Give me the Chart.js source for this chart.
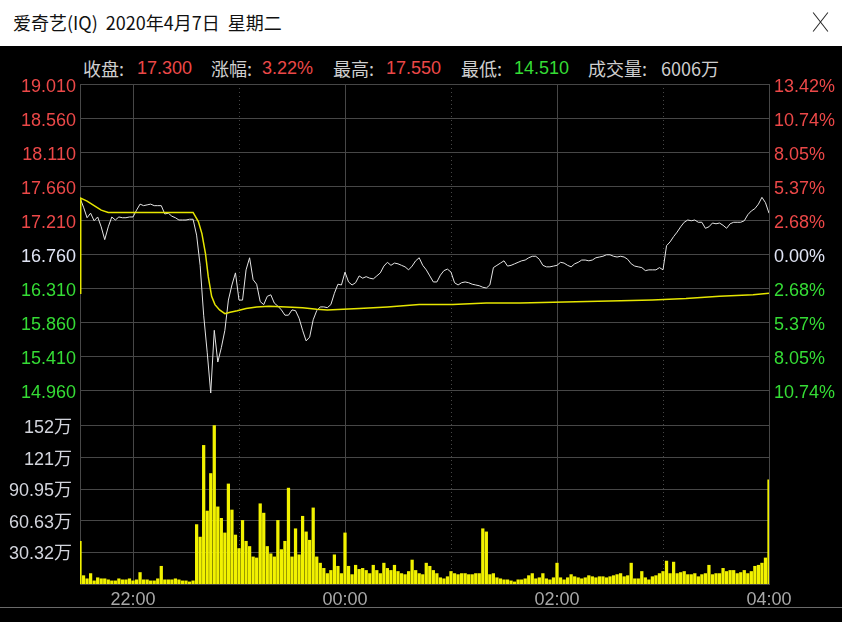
<!DOCTYPE html>
<html>
<head>
<meta charset="utf-8">
<script src="https://cdn.jsdelivr.net/npm/chart.js@4.4.0/dist/chart.umd.min.js"></script>
<style>
  html, body { margin: 0; padding: 0; background: #000; }
  body { width: 842px; height: 622px; position: relative; overflow: hidden;
         font-family: "Liberation Sans", "Noto Sans CJK SC", sans-serif; }
  #titlebar { position: absolute; left: 0; top: 0; width: 842px; height: 46px; background: #fff; }
  #title { position: absolute; left: 13px; top: 9px; font-size: 18px; color: #111;
           font-family: "Noto Sans CJK SC", sans-serif; white-space: nowrap; }
  #close { position: absolute; left: 812px; top: 11px; width: 18px; height: 22px; }
  #close i { position: absolute; left: 8px; top: -1px; width: 1px; height: 24px; background: #222; }
  #close i:first-child { transform: rotate(38deg); }
  #close i:last-child { transform: rotate(-38deg); }
  #info span { position: absolute; top: 57px; font-size: 18px; line-height: 22px; white-space: nowrap; }
  .lbl { color: #cfcfcf; font-family: "Noto Sans CJK SC", sans-serif; }
  .up { color: #ec4848; }
  .down { color: #35dc35; }
  canvas { position: absolute; left: 0; }
  #priceCanvas { top: 46px; }
  #volCanvas { top: 408px; }
  #sep { position: absolute; left: 0; top: 607px; width: 842px; height: 1px; background: #6a6a6a; }
</style>
</head>
<body>
<div id="titlebar">
  <div id="title">爱奇艺(IQ)&nbsp; 2020年4月7日&nbsp; 星期二</div>
  <div id="close"><i></i><i></i></div>
</div>
<div id="info">
  <span class="lbl" style="left:83px">收盘:</span><span class="up" style="left:137px">17.300</span>
  <span class="lbl" style="left:211px">涨幅:</span><span class="up" style="left:262px">3.22%</span>
  <span class="lbl" style="left:333px">最高:</span><span class="up" style="left:386px">17.550</span>
  <span class="lbl" style="left:461px">最低:</span><span class="down" style="left:514px">14.510</span>
  <span class="lbl" style="left:588px">成交量:</span><span class="lbl" style="left:661px">6006万</span>
</div>
<canvas id="priceCanvas" width="842" height="362"></canvas>
<canvas id="volCanvas" width="842" height="214"></canvas>
<div id="sep"></div>
<script>
// axis labels
const priceTicks = [19.010, 18.560, 18.110, 17.660, 17.210, 16.760, 16.310, 15.860, 15.410, 14.960];
const pctLabels = ["13.42%", "10.74%", "8.05%", "5.37%", "2.68%", "0.00%", "2.68%", "5.37%", "8.05%", "10.74%"];
const prevClose = 16.760;
const volTicks = [30.32, 60.63, 90.95, 121.27, 151.6];
const volLabels = ["30.32万", "60.63万", "90.95万", "121万", "152万"];
const timeTicks = [30, 90, 150, 210, 270, 330, 390];          // minutes after 21:30
const timeLabels = ["22:00", "", "00:00", "", "02:00", "", "04:00"];
const dottedTimes = [90, 210, 330];

// last price, one sample every 2 minutes from 21:30 to 04:00
const prices = [
  17.50, 17.38, 17.24, 17.30, 17.20, 17.25, 17.12, 16.95, 17.12, 17.25,
  17.21, 17.25, 17.24, 17.24, 17.25, 17.25, 17.34, 17.42, 17.40, 17.41,
  17.42, 17.40, 17.40, 17.40, 17.29, 17.30, 17.26, 17.24, 17.21, 17.21,
  17.21, 17.22, 17.22, 17.01, 16.61, 15.95, 15.46, 14.92, 15.75, 15.33,
  15.52, 15.75, 16.15, 16.35, 16.51, 16.15, 16.15, 16.55, 16.71, 16.42,
  16.36, 16.13, 16.09, 16.20, 16.22, 16.11, 16.07, 16.02, 15.95, 15.95,
  16.02, 16.01, 15.91, 15.75, 15.61, 15.66, 15.89, 16.01, 16.06, 16.06,
  16.05, 16.09, 16.24, 16.36, 16.35, 16.52, 16.39, 16.35, 16.38, 16.47,
  16.44, 16.46, 16.44, 16.43, 16.47, 16.51, 16.60, 16.65, 16.61, 16.64,
  16.63, 16.61, 16.59, 16.55, 16.60, 16.67, 16.71, 16.61, 16.55, 16.47,
  16.39, 16.39, 16.48, 16.54, 16.56, 16.52, 16.38, 16.35, 16.38, 16.39,
  16.38, 16.36, 16.35, 16.34, 16.32, 16.31, 16.35, 16.58, 16.61, 16.64,
  16.67, 16.60, 16.61, 16.63, 16.65, 16.67, 16.68, 16.71, 16.73, 16.73,
  16.69, 16.61, 16.59, 16.59, 16.60, 16.61, 16.65, 16.64, 16.61, 16.59,
  16.63, 16.65, 16.68, 16.68, 16.67, 16.68, 16.71, 16.72, 16.73, 16.75,
  16.75, 16.73, 16.72, 16.73, 16.72, 16.69, 16.63, 16.60, 16.59, 16.58,
  16.54, 16.55, 16.55, 16.55, 16.58, 16.55, 16.87, 16.92, 16.99, 17.05,
  17.12, 17.18, 17.21, 17.20, 17.21, 17.18, 17.18, 17.10, 17.12, 17.17,
  17.16, 17.17, 17.14, 17.10, 17.16, 17.18, 17.18, 17.18, 17.20, 17.28,
  17.33, 17.36, 17.42, 17.51, 17.44, 17.30
];

// average price line
const avgMinutes = [0, 0.4, 4, 8, 12, 16, 64, 67, 69, 71, 72.6, 74.5, 76.4, 79, 82, 85,
  89, 94, 100, 107, 117, 126, 134, 140, 149, 158, 174, 192, 211, 230, 249, 268, 287,
  306, 324, 343, 362, 381, 390];
const avgPrices = [16.24, 17.50, 17.46, 17.40, 17.34, 17.31, 17.31, 17.19, 17.03, 16.77,
  16.46, 16.20, 16.09, 16.02, 15.97, 15.99, 16.01, 16.04, 16.06, 16.07, 16.06, 16.05,
  16.03, 16.02, 16.03, 16.04, 16.06, 16.09, 16.09, 16.11, 16.11, 16.12, 16.13, 16.14,
  16.15, 16.17, 16.20, 16.22, 16.24];

// volume in 万, every 2 minutes
const volumes = [
  41, 8, 5, 10, 3, 6, 5, 5, 4, 3, 3, 5, 4, 4, 5, 3, 4, 11, 4, 4,
  3, 3, 5, 17, 4, 4, 4, 5, 4, 3, 3, 2, 3, 57, 45, 133, 70, 106, 152, 74,
  63, 49, 96, 71, 47, 34, 61, 41, 36, 26, 25, 77, 68, 36, 29, 26, 61, 33, 41, 92,
  26, 53, 28, 65, 50, 42, 73, 26, 20, 15, 10, 13, 28, 17, 10, 49, 17, 9, 18, 14,
  15, 13, 10, 18, 13, 10, 20, 15, 13, 18, 12, 10, 9, 12, 23, 13, 10, 9, 20, 17,
  13, 10, 6, 5, 7, 12, 10, 9, 10, 10, 9, 9, 10, 10, 53, 50, 9, 10, 6, 5,
  4, 4, 3, 2, 4, 4, 5, 8, 10, 5, 6, 10, 5, 4, 6, 20, 6, 4, 6, 9,
  7, 6, 5, 6, 8, 7, 6, 7, 7, 6, 7, 8, 9, 10, 7, 8, 20, 5, 5, 12,
  6, 4, 7, 8, 10, 12, 22, 10, 21, 10, 11, 12, 9, 9, 10, 7, 9, 10, 18, 9,
  10, 10, 15, 12, 13, 13, 10, 11, 13, 10, 12, 17, 18, 20, 25, 100
];

const GRID = "#474747";
const RED = "#ec4848", GREEN = "#35dc35", FLAT = "#e0e4f4";
const PRICE_MIN = 14.7218;   // bottom of the price panel (gap above the volume panel)
const PRICE_MAX = 19.010;
const VOL_MAX = 168.87;      // top of the volume panel

Chart.defaults.font.family = '"Liberation Sans", "Noto Sans CJK SC", sans-serif';
Chart.defaults.font.size = 18;

function tickColor(v) {
  if (v > prevClose + 1e-6) return RED;
  if (v < prevClose - 1e-6) return GREEN;
  return FLAT;
}
const gridDash = ctx => (ctx.tick && dottedTimes.includes(ctx.tick.value)) ? [1, 3] : [];
const setTimeTicks = s => { s.ticks = timeTicks.map(v => ({ value: v })); };
const setPriceTicks = s => { s.ticks = priceTicks.map(v => ({ value: v })); };
// fixed axis width, and no extra room for the end labels
const fitY = w => s => { s.width = w; s.paddingTop = 0; s.paddingBottom = 0; };

new Chart(document.getElementById("priceCanvas"), {
  type: "line",
  data: {
    datasets: [
      {
        data: avgMinutes.map((m, i) => ({ x: m, y: avgPrices[i] })),
        borderColor: "#e6e600", borderWidth: 1.5, pointRadius: 0, order: 0
      },
      {
        data: prices.map((p, i) => ({ x: i * 2, y: p })),
        borderColor: "#e4e4e4", borderWidth: 1, pointRadius: 0, order: 1
      }
    ]
  },
  options: {
    responsive: false, animation: false, events: [],
    layout: { padding: { top: 38, bottom: 0, left: 0, right: 0 } },
    plugins: { legend: { display: false }, tooltip: { enabled: false } },
    scales: {
      x: {
        type: "linear", min: 0, max: 390,
        afterBuildTicks: setTimeTicks,
        afterFit: s => { s.height = 0; s.paddingLeft = 0; s.paddingRight = 0; },
        ticks: { display: false },
        grid: { color: GRID, drawTicks: false },
        border: { display: false, dash: gridDash }
      },
      y: {
        position: "left", min: PRICE_MIN, max: PRICE_MAX,
        afterBuildTicks: setPriceTicks,
        afterFit: fitY(80),
        ticks: { color: ctx => tickColor(ctx.tick.value), padding: 4, labelOffset: 3,
                 autoSkip: false, callback: v => v.toFixed(3) },
        grid: { color: GRID, drawTicks: false },
        border: { color: GRID }
      },
      yr: {
        position: "right", min: PRICE_MIN, max: PRICE_MAX,
        afterBuildTicks: setPriceTicks,
        afterFit: fitY(73),
        ticks: { color: ctx => tickColor(ctx.tick.value), padding: 5, labelOffset: 3,
                 autoSkip: false, callback: v => pctLabels[priceTicks.indexOf(v)] },
        grid: { display: false, drawTicks: false },
        border: { color: GRID }
      }
    }
  }
});

new Chart(document.getElementById("volCanvas"), {
  type: "bar",
  data: {
    datasets: [{
      data: volumes.map((v, i) => ({ x: i * 2, y: v })),
      backgroundColor: "#f2f200", borderWidth: 0, barThickness: 2.6,
      xAxisID: "x", yAxisID: "y"
    }]
  },
  options: {
    responsive: false, animation: false, events: [],
    layout: { padding: { top: 0, bottom: 8, left: 0, right: 0 } },
    plugins: { legend: { display: false }, tooltip: { enabled: false } },
    scales: {
      x: {
        type: "linear", min: 0, max: 390, offset: false,
        afterBuildTicks: setTimeTicks,
        afterFit: s => { s.height = 30; s.paddingLeft = 0; s.paddingRight = 0; },
        ticks: { color: "#a8a8a8", padding: 5, autoSkip: false, maxRotation: 0,
                 callback: v => timeLabels[timeTicks.indexOf(v)] },
        grid: { color: GRID, drawTicks: false, offset: false },
        border: { color: GRID, dash: gridDash }
      },
      y: {
        position: "left", min: 0, max: VOL_MAX,
        afterBuildTicks: s => { s.ticks = volTicks.map(v => ({ value: v })); },
        afterFit: fitY(80),
        ticks: { color: "#d2d4dc", padding: 8, labelOffset: 2, autoSkip: false,
                 callback: v => volLabels[volTicks.indexOf(v)] },
        grid: { color: GRID, drawTicks: false },
        border: { color: GRID }
      },
      yr: {
        position: "right", min: 0, max: VOL_MAX,
        afterFit: fitY(73),
        ticks: { display: false },
        grid: { display: false, drawTicks: false },
        border: { color: GRID }
      }
    }
  }
});
</script>
</body>
</html>
